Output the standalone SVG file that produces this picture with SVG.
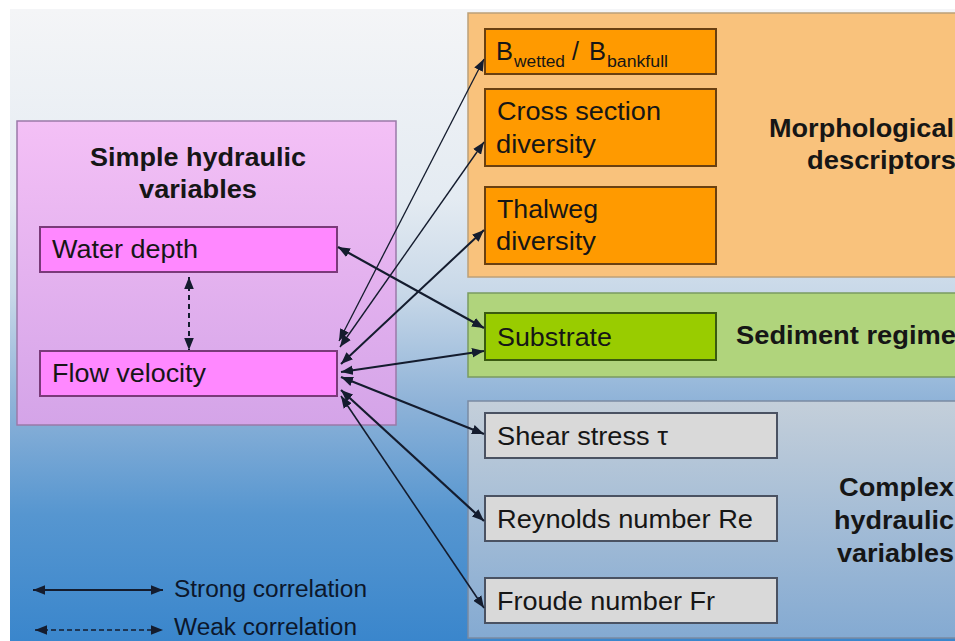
<svg xmlns="http://www.w3.org/2000/svg" width="955" height="641" viewBox="0 0 955 641">
<defs>
<linearGradient id="bg" x1="0" y1="0" x2="0" y2="1">
<stop offset="0" stop-color="#f4f5f7"/>
<stop offset="0.3" stop-color="#e4ebf2"/>
<stop offset="0.45" stop-color="#c8d8e8"/>
<stop offset="0.62" stop-color="#8fb3d8"/>
<stop offset="0.8" stop-color="#5696d0"/>
<stop offset="1" stop-color="#3a86cc"/>
</linearGradient>
<linearGradient id="pinkPanel" x1="0" y1="0" x2="0" y2="1">
<stop offset="0" stop-color="#f4c0f6"/>
<stop offset="1" stop-color="#d4a4e8"/>
</linearGradient>
<linearGradient id="grayPanel" x1="0" y1="0" x2="0" y2="1">
<stop offset="0" stop-color="#c4cfda"/>
<stop offset="1" stop-color="#84aad2"/>
</linearGradient>
<marker id="ah" viewBox="0 0 10 8" refX="10" refY="4" markerUnits="userSpaceOnUse" markerWidth="12" markerHeight="10" orient="auto-start-reverse">
<path d="M0,0 L10,4 L0,8 z" fill="#141c2e"/>
</marker>
<style>
.t{font-family:"Liberation Sans",Arial,sans-serif;font-size:25px;fill:#161616}
.b{font-family:"Liberation Sans",Arial,sans-serif;font-size:25px;font-weight:bold;fill:#161616}
.sub{font-family:"Liberation Sans",Arial,sans-serif;font-size:16px;fill:#161616}
.lg{font-family:"Liberation Sans",Arial,sans-serif;font-size:23px;fill:#0c172b}
.pk{fill:#ff88ff;stroke:#7a3a7a;stroke-width:2}
.or{fill:#ff9a00;stroke:#6a4010;stroke-width:2}
.gr{fill:#99cc00;stroke:#3a5a10;stroke-width:2}
.gy{fill:#d9d9d9;stroke:#4a5262;stroke-width:2}
.c{fill:none;stroke:#141c2e;marker-start:url(#ah);marker-end:url(#ah)}
</style>
</defs>
<rect x="0" y="0" width="955" height="641" fill="#ffffff"/>
<rect x="10" y="9" width="945" height="632" fill="url(#bg)"/>

<g id="simple-panel">
<rect x="17" y="121" width="379" height="304" fill="url(#pinkPanel)" stroke="#9a7aa8" stroke-width="1.5"/>
<text class="b" x="198" y="166" text-anchor="middle" textLength="216" lengthAdjust="spacingAndGlyphs" fill="#24182a">Simple hydraulic</text>
<text class="b" x="198" y="198" text-anchor="middle" textLength="118" lengthAdjust="spacingAndGlyphs">variables</text>
</g>
<g id="water-depth">
<rect class="pk" x="40" y="227" width="297" height="45"/>
<text class="t" x="52" y="258" textLength="146" lengthAdjust="spacingAndGlyphs">Water depth</text>
</g>
<g id="flow-velocity">
<rect class="pk" x="40" y="351" width="297" height="45"/>
<text class="t" x="52" y="382" textLength="154" lengthAdjust="spacingAndGlyphs">Flow velocity</text>
</g>

<g id="morph-panel">
<rect x="468" y="13" width="500" height="264" fill="#f9c27c" stroke="#bca078" stroke-width="1.5"/>
<text class="b" x="954" y="137" text-anchor="end" textLength="185" lengthAdjust="spacingAndGlyphs">Morphological</text>
<text class="b" x="956" y="169" text-anchor="end" textLength="149" lengthAdjust="spacingAndGlyphs">descriptors</text>
</g>
<g id="b-ratio">
<rect class="or" x="485" y="29" width="231" height="45"/>
<text class="t" x="496" y="60" textLength="17" lengthAdjust="spacingAndGlyphs">B</text>
<text class="sub" x="514" y="67" textLength="51" lengthAdjust="spacingAndGlyphs">wetted</text>
<text class="t" x="572" y="60">/</text>
<text class="t" x="589" y="60" textLength="17" lengthAdjust="spacingAndGlyphs">B</text>
<text class="sub" x="607" y="67" textLength="61" lengthAdjust="spacingAndGlyphs">bankfull</text>
</g>
<g id="cross-section">
<rect class="or" x="485" y="89" width="231" height="77"/>
<text class="t" x="497" y="120" textLength="164" lengthAdjust="spacingAndGlyphs">Cross section</text>
<text class="t" x="496" y="153" textLength="100" lengthAdjust="spacingAndGlyphs">diversity</text>
</g>
<g id="thalweg">
<rect class="or" x="485" y="187" width="231" height="77"/>
<text class="t" x="497" y="218" textLength="101" lengthAdjust="spacingAndGlyphs">Thalweg</text>
<text class="t" x="496" y="250" textLength="100" lengthAdjust="spacingAndGlyphs">diversity</text>
</g>

<g id="sediment-panel">
<rect x="468" y="293" width="500" height="84" fill="#b0d47c" stroke="#7a9a60" stroke-width="1.5"/>
<text class="b" x="956" y="344" text-anchor="end" textLength="220" lengthAdjust="spacingAndGlyphs">Sediment regime</text>
</g>
<g id="substrate">
<rect class="gr" x="485" y="313" width="231" height="47"/>
<text class="t" x="497" y="346" textLength="115" lengthAdjust="spacingAndGlyphs">Substrate</text>
</g>

<g id="complex-panel">
<rect x="468" y="401" width="500" height="237" fill="url(#grayPanel)" stroke="#7a8aa2" stroke-width="1.5"/>
<text class="b" x="954" y="496" text-anchor="end" textLength="115" lengthAdjust="spacingAndGlyphs" fill="#0f1a2a">Complex</text>
<text class="b" x="954" y="529" text-anchor="end" textLength="120" lengthAdjust="spacingAndGlyphs" fill="#0f1a2a">hydraulic</text>
<text class="b" x="954" y="562" text-anchor="end" textLength="117" lengthAdjust="spacingAndGlyphs" fill="#0f1a2a">variables</text>
</g>
<g id="shear-stress">
<rect class="gy" x="485" y="413" width="292" height="45"/>
<text class="t" x="497" y="445" textLength="171" lengthAdjust="spacingAndGlyphs">Shear stress τ</text>
</g>
<g id="reynolds">
<rect class="gy" x="485" y="496" width="292" height="45"/>
<text class="t" x="497" y="528" textLength="256" lengthAdjust="spacingAndGlyphs">Reynolds number Re</text>
</g>
<g id="froude">
<rect class="gy" x="485" y="578" width="292" height="45"/>
<text class="t" x="497" y="610" textLength="218" lengthAdjust="spacingAndGlyphs">Froude number Fr</text>
</g>

<g id="connectors">
<line class="c" x1="339" y1="341" x2="484" y2="59" stroke-width="1.3"/>
<line class="c" x1="340" y1="347" x2="484" y2="142" stroke-width="1.4"/>
<line class="c" x1="341" y1="364" x2="484" y2="230" stroke-width="2"/>
<line class="c" x1="338" y1="247" x2="484" y2="328" stroke-width="2.2"/>
<line class="c" x1="341" y1="372" x2="484" y2="351" stroke-width="2.2"/>
<line class="c" x1="341" y1="377" x2="484" y2="434" stroke-width="2.2"/>
<line class="c" x1="341" y1="390" x2="484" y2="521" stroke-width="2.2"/>
<line class="c" x1="341" y1="396" x2="484" y2="608" stroke-width="1.6"/>
<line class="c" x1="189" y1="277" x2="189" y2="350" stroke-width="2" stroke-dasharray="5 4"/>
</g>

<g id="legend">
<line class="c" x1="33" y1="590" x2="163" y2="590" stroke-width="2.2"/>
<text class="lg" x="174" y="597" textLength="193" lengthAdjust="spacingAndGlyphs">Strong correlation</text>
<line class="c" x1="35" y1="630" x2="163" y2="630" stroke-width="1.6" stroke-dasharray="5 3"/>
<text class="lg" x="174" y="635" textLength="183" lengthAdjust="spacingAndGlyphs">Weak correlation</text>
</g>
</svg>
